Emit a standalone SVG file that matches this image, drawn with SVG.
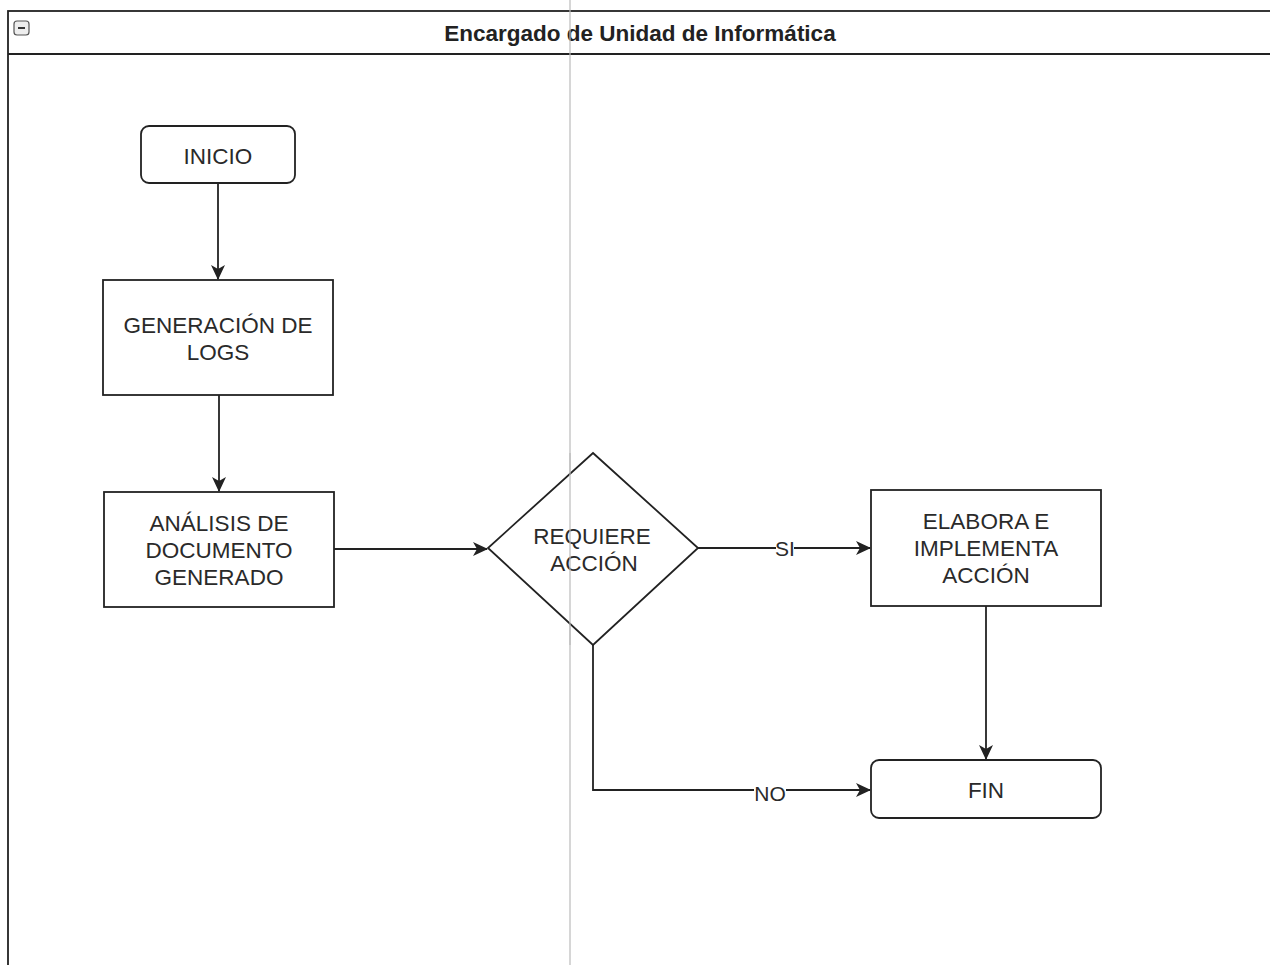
<svg xmlns="http://www.w3.org/2000/svg" width="1270" height="965" viewBox="0 0 1270 965">
<style>
.node{fill:#fff;stroke:#222;stroke-width:1.8}
.lbl{font-family:"Liberation Sans",Arial,sans-serif;font-size:22.5px;fill:#2a2a2a;text-anchor:middle}
.edge{fill:none;stroke:#222;stroke-width:1.8}
.elbl{font-family:"Liberation Sans",Arial,sans-serif;font-size:21px;fill:#2a2a2a;text-anchor:middle}
</style>
<defs>
<marker id="arr" markerWidth="16" markerHeight="16" refX="14" refY="8" orient="auto" markerUnits="userSpaceOnUse">
<path d="M0,1 L15,8 L0,15 L4,8 Z" fill="#222"/>
</marker>
</defs>
<rect x="0" y="0" width="1270" height="965" fill="#fff"/>
<g id="pool">
<rect x="8" y="11" width="1280" height="970" fill="#fff" stroke="#222" stroke-width="1.8"/>
<line x1="8" y1="54" x2="1270" y2="54" stroke="#222" stroke-width="1.8"/>
<rect x="14" y="21" width="15" height="14" rx="3" fill="#eee" stroke="#555" stroke-width="1.2"/>
<line x1="18" y1="28" x2="25" y2="28" stroke="#222" stroke-width="1.8"/>
<text x="640" y="41" font-family="Liberation Sans,Arial,sans-serif" font-size="22.5" font-weight="bold" fill="#222" text-anchor="middle">Encargado de Unidad de Informática</text>
</g>
<line x1="570" y1="0" x2="570" y2="965" stroke="#bbb" stroke-width="1.2"/>
<g id="connectors">
<line class="edge" x1="218" y1="183" x2="218" y2="279" marker-end="url(#arr)"/>
<line class="edge" x1="219" y1="395" x2="219" y2="491" marker-end="url(#arr)"/>
<line class="edge" x1="334" y1="549" x2="487" y2="549" marker-end="url(#arr)"/>
<line class="edge" x1="698" y1="548" x2="870" y2="548" marker-end="url(#arr)"/>
<rect x="776" y="538" width="18" height="20" fill="#fff"/>
<text class="elbl" x="785" y="556">SI</text>
<line class="edge" x1="986" y1="606" x2="986" y2="759" marker-end="url(#arr)"/>
<polyline class="edge" points="593,645 593,790 870,790" marker-end="url(#arr)"/>
<rect x="754" y="780" width="32" height="20" fill="#fff"/>
<text class="elbl" x="770" y="801">NO</text>
</g>
<g id="inicio">
<rect class="node" x="141" y="126" width="154" height="57" rx="8"/>
<text class="lbl" x="218" y="164">INICIO</text>
</g>
<g id="generacion">
<rect class="node" x="103" y="280" width="230" height="115"/>
<text class="lbl" x="218" y="333">GENERACIÓN DE</text>
<text class="lbl" x="218" y="360">LOGS</text>
</g>
<g id="analisis">
<rect class="node" x="104" y="492" width="230" height="115"/>
<text class="lbl" x="219" y="531">ANÁLISIS DE</text>
<text class="lbl" x="219" y="558">DOCUMENTO</text>
<text class="lbl" x="219" y="585">GENERADO</text>
</g>
<g id="decision">
<polygon class="node" points="593,453 698,548 593,645 488,548"/>
<text class="lbl" x="592" y="544">REQUIERE</text>
<text class="lbl" x="594" y="571">ACCIÓN</text>
</g>
<line x1="570" y1="453" x2="570" y2="645" stroke="#bbb" stroke-width="1.2"/>
<g id="elabora">
<rect class="node" x="871" y="490" width="230" height="116"/>
<text class="lbl" x="986" y="529">ELABORA E</text>
<text class="lbl" x="986" y="556">IMPLEMENTA</text>
<text class="lbl" x="986" y="583">ACCIÓN</text>
</g>
<g id="fin">
<rect class="node" x="871" y="760" width="230" height="58" rx="8"/>
<text class="lbl" x="986" y="798">FIN</text>
</g>
</svg>
